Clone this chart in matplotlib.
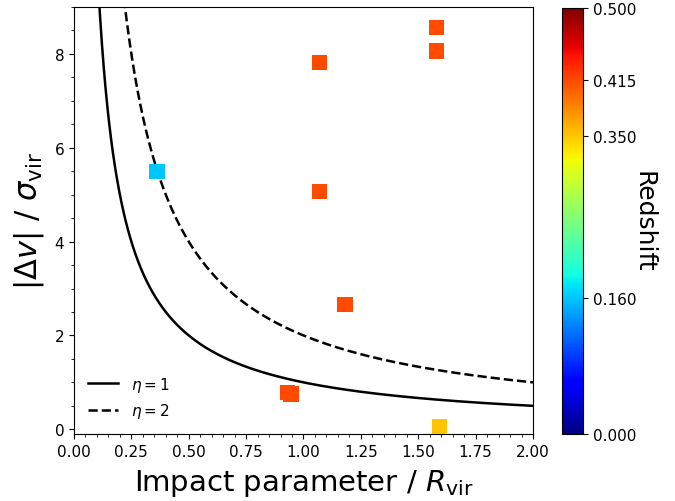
import matplotlib
matplotlib.use("Agg")
import matplotlib.pyplot as plt
import numpy as np

# observed absorbers
impact = [0.362, 1.071, 1.071, 1.579, 1.579, 1.181, 0.931, 0.946, 1.593]
dv = [5.49, 7.82, 5.07, 8.57, 8.06, 2.66, 0.78, 0.75, 0.05]
redshift = [0.160, 0.415, 0.415, 0.415, 0.415, 0.415, 0.415, 0.415, 0.350]

cbar_ticks = [0.000, 0.160, 0.350, 0.415, 0.500]
etas = [1, 2]
styles = ["-", "--"]


def plot():
    fig = plt.figure(figsize=(6.75, 5.02), dpi=100)
    ax = fig.add_axes([0.1096, 0.1335, 0.680, 0.8506])
    cax = fig.add_axes([0.8326, 0.1335, 0.0311, 0.8486])

    b = np.linspace(0.01, 2.0, 500)
    for eta, ls in zip(etas, styles):
        ax.plot(b, eta / b, color="black", ls=ls, lw=1.8,
                label=r"$\eta = %d$" % eta)

    sc = ax.scatter(impact, dv, c=redshift, cmap="jet", vmin=0.0, vmax=0.5,
                    marker="s", s=120, linewidths=0, zorder=3)

    ax.set_xlim(0, 2)
    ax.set_ylim(-0.1, 9)
    ax.set_xticks(np.arange(0, 2.01, 0.25))
    ax.set_yticks([0, 2, 4, 6, 8])
    ax.minorticks_on()
    ax.tick_params(labelsize=11)
    ax.set_xlabel(r"Impact parameter / $R_{\rm vir}$", fontsize=21, labelpad=6)
    ax.set_ylabel(r"$|\Delta v|$ / $\sigma_{\rm vir}$", fontsize=22, labelpad=6)
    ax.legend(loc="lower left", frameon=False, fontsize=11)

    cb = fig.colorbar(sc, cax=cax, ticks=cbar_ticks, format="%.3f")
    cb.ax.tick_params(labelsize=11)
    cb.set_label("Redshift", rotation=270, fontsize=18, labelpad=14)

    fig.savefig("out.png", dpi=100)


if __name__ == "__main__":
    plot()
